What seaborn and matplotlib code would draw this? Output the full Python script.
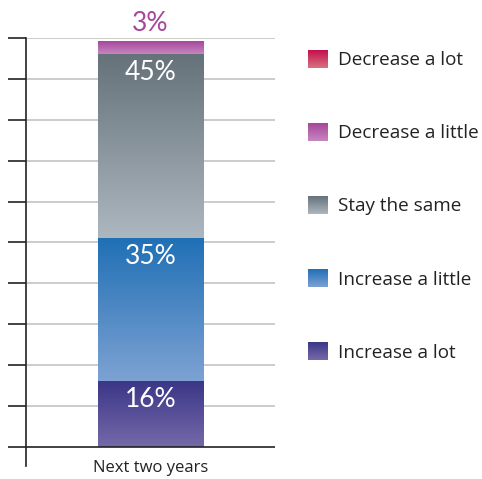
import numpy as np
import pandas as pd
import matplotlib
matplotlib.use("Agg")
import matplotlib.pyplot as plt
import seaborn as sns
from matplotlib.colors import LinearSegmentedColormap
from matplotlib.image import BboxImage
from matplotlib.transforms import Bbox, TransformedBbox
from matplotlib.legend_handler import HandlerBase
from matplotlib.patches import Patch

# Survey data: expected change over the period, stacked bottom to top
period = "Next two years"
responses = ["Increase a lot", "Increase a little", "Stay the same",
             "Decrease a little", "Decrease a lot"]
shares = [16, 35, 45, 3, 0]

# Vertical gradient for each response (top colour -> bottom colour)
top_colors = ["#3b3687", "#1f6fb5", "#65727a", "#a6479b", "#c40f4d"]
bottom_colors = ["#7569a9", "#7da2d3", "#adb7bf", "#c786c0", "#d7727f"]

sns.set_theme(style="white")
plt.rcParams["font.family"] = ["Open Sans", "DejaVu Sans"]

df = pd.DataFrame({"period": period, "response": responses, "share": shares})
df["top"] = df["share"].cumsum()
df["bottom"] = df["top"] - df["share"]

fig = plt.figure(figsize=(4.82, 4.79), dpi=100)
ax = fig.add_axes([26 / 482, 1 - 466 / 479, 249 / 482, 428 / 479])

cmaps = [LinearSegmentedColormap.from_list(r, [t, b])
         for r, t, b in zip(responses, top_colors, bottom_colors)]

bar_width = 0.425
drawn = df[df["share"] > 0]

# Cumulative bars, tallest first so each shorter one sits on top
for i in reversed(drawn.index):
    sns.barplot(data=df.iloc[[i]], x="period", y="top", color=top_colors[i],
                width=bar_width, ax=ax, zorder=2 + i * 0.01, linewidth=0)

# Gradient fill for every segment
gradient = np.linspace(0, 1, 256).reshape(-1, 1)
for i, row in drawn.iterrows():
    ax.imshow(gradient, cmap=cmaps[i], aspect="auto", origin="upper",
              extent=[-bar_width / 2, bar_width / 2, row["bottom"], row["top"]],
              interpolation="bicubic", zorder=3)

# Percentage labels
for i, row in drawn.iterrows():
    if row["share"] >= 10:
        ax.text(0, row["top"] - 4.4, f"{row['share']}%", ha="center", va="center",
                color="white", fontsize=19, family="Lato", zorder=5)
    else:
        ax.text(0, row["top"] + 4.6, f"{row['share']}%", ha="center", va="center",
                color=top_colors[i], fontsize=19, family="Lato", zorder=5,
                clip_on=False)

ax.set_xlim(-0.5, 0.5)
ax.set_ylim(-4.7, 100)
ax.set_yticks(np.arange(0, 101, 10))
ax.set_yticklabels([])
ax.set_ylabel("")
ax.set_xlabel("")

# Grid lines and baseline
for y in np.arange(10, 101, 10):
    ax.axhline(y, color="#c4c4c4", linewidth=1.2, zorder=1)
ax.axhline(0, color="#222222", linewidth=1.2, zorder=4)

for side in ["top", "right", "bottom"]:
    ax.spines[side].set_visible(False)
ax.spines["left"].set_color("#222222")
ax.spines["left"].set_linewidth(1.2)
ax.tick_params(axis="y", direction="out", length=13, width=1.2,
               color="#222222", left=True)
ax.tick_params(axis="x", length=0, pad=-4.5, labelsize=12, labelcolor="#222222")


class GradientSwatch(HandlerBase):
    def __init__(self, cmap):
        super().__init__()
        self.cmap = cmap

    def create_artists(self, legend, orig_handle, xdescent, ydescent,
                       width, height, fontsize, trans):
        box = TransformedBbox(Bbox.from_bounds(-xdescent, -ydescent, width, height), trans)
        img = BboxImage(box, cmap=self.cmap, interpolation="bicubic", origin="upper")
        img.set_data(gradient)
        return [img]


fs = 13.6
sw = 20 / (fs / 72 * 100)
handles = [Patch(facecolor=top_colors[i], label=responses[i]) for i in range(len(responses))][::-1]
handler_map = {h: GradientSwatch(cmaps[len(responses) - 1 - k]) for k, h in enumerate(handles)}
fig.legend(handles=handles, handler_map=handler_map, loc="upper left",
           bbox_to_anchor=(308 / 482, 1 - 50 / 479), frameon=False,
           fontsize=fs, labelcolor="#222222", handlelength=sw,
           handleheight=sw, handletextpad=0.52, labelspacing=2.85,
           borderpad=0, borderaxespad=0)

fig.savefig("out.png", dpi=100)
